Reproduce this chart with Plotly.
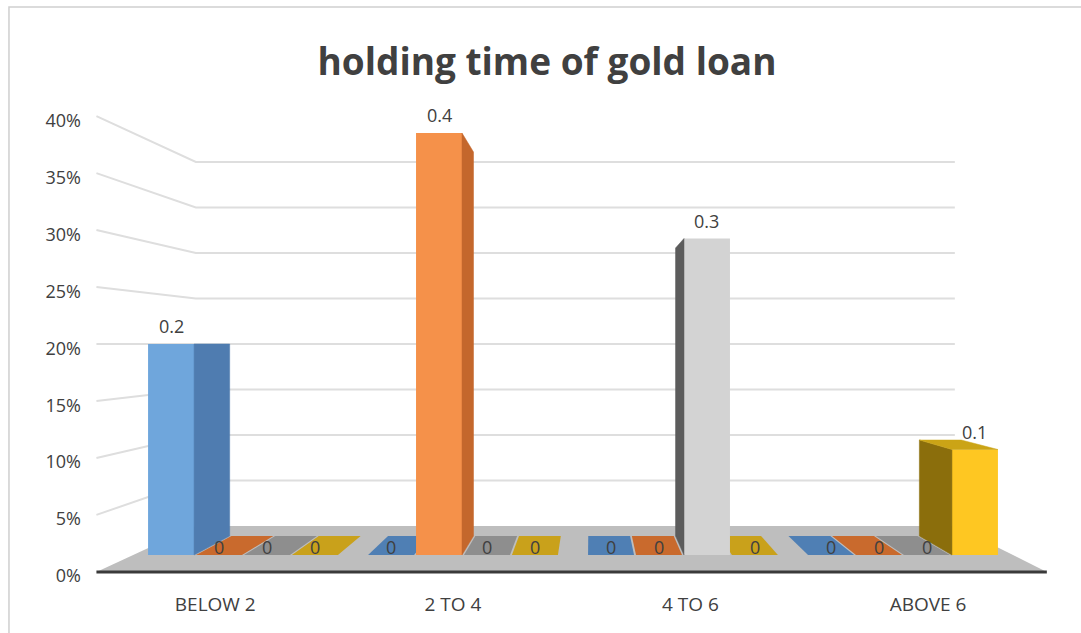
import plotly.graph_objects as go

# ---- data -------------------------------------------------------------
categories = ["BELOW 2", "2 TO 4", "4 TO 6", "ABOVE 6"]
series_names = ["Series1", "Series2", "Series3", "Series4"]
blue_values = [0.2, 0, 0, 0]
orange_values = [0, 0.4, 0, 0]
gray_values = [0, 0, 0.3, 0]
yellow_values = [0, 0, 0, 0.1]
y_tick_values = [0, 0.05, 0.10, 0.15, 0.20, 0.25, 0.30, 0.35, 0.40]
y_tick_text = ["0%", "5%", "10%", "15%", "20%", "25%", "30%", "35%", "40%"]
title_text = "holding time of gold loan"

series_values = [blue_values, orange_values, gray_values, yellow_values]

# ---- styling ----------------------------------------------------------
FONT = "Open Sans"
TEXT = "#404040"
front_colors = ["#6fa6dc", "#f5914a", "#d3d3d3", "#fec722"]
side_colors = ["#4f7cb0", "#c4672c", "#5c5c5c", "#8b6e0c"]
top_colors = ["#8dbbe6", "#f8ad77", "#e6e6e6", "#cba416"]
tile_colors = ["#4f7fb4", "#c96a2d", "#8e8e8e", "#c9a11b"]
GRID = "#dedede"
FLOOR = "#bebebe"

# perspective: vanishing point (in axis units) and depth scale factors
VP_X, VP_Y = 1.577, 0.2
S_FRONT = 1.08       # front edge of the floor / label plane
S_BAR = 1.0          # front faces of the columns
S_BAR_BACK = 0.91    # back faces of the columns
S_WALL = 0.8625      # back wall
SLOT = 0.218
BAR_W = 0.209
X_MIN, X_MAX = -0.5, 3.5


def proj(x, y, s):
    return VP_X + (x - VP_X) * s, VP_Y + (y - VP_Y) * s


def path(points):
    return "M " + " L ".join(f"{x:.4f},{y:.4f}" for x, y in points) + " Z"


def line_path(points):
    return "M " + " L ".join(f"{x:.4f},{y:.4f}" for x, y in points)


shapes = []

# outer chart border
shapes.append(dict(type="path", xref="paper", yref="paper",
                   path="M -0.0813,-0.2 L -0.0813,1.1937 L 1.1,1.1937",
                   line=dict(color="#cfcfcf", width=1.5), layer="below"))

# wall gridlines (back wall + left side wall)
for v in y_tick_values[1:]:
    a = proj(X_MIN, v, S_FRONT)
    b = proj(X_MIN, v, S_WALL)
    c = proj(X_MAX, v, S_WALL)
    shapes.append(dict(type="path", xref="x", yref="y", path=line_path([a, b, c]),
                       line=dict(color=GRID, width=2), layer="below"))

# floor
floor_pts = [proj(X_MIN, 0, S_FRONT), proj(X_MAX, 0, S_FRONT),
             proj(X_MAX, 0, S_WALL), proj(X_MIN, 0, S_WALL)]
shapes.append(dict(type="path", xref="x", yref="y", path=path(floor_pts),
                   fillcolor=FLOOR, line=dict(width=0), layer="below"))
shapes.append(dict(type="path", xref="x", yref="y",
                   path=line_path([proj(X_MIN, 0, S_FRONT), proj(X_MAX, 0, S_FRONT)]),
                   line=dict(color="#3a3a3a", width=3), layer="below"))

# flat tiles for zero values and 3D faces for the non-zero columns
for j, vals in enumerate(series_values):
    for i, v in enumerate(vals):
        xc = i + (j - 1.5) * SLOT
        x0, x1 = xc - BAR_W / 2, xc + BAR_W / 2
        if v == 0:
            pts = [proj(x0, 0, S_BAR), proj(x1, 0, S_BAR),
                   proj(x1, 0, S_BAR_BACK), proj(x0, 0, S_BAR_BACK)]
            shapes.append(dict(type="path", xref="x", yref="y", path=path(pts),
                               fillcolor=tile_colors[j], line=dict(width=0), layer="below"))
            continue
        xs = x1 if xc < VP_X else x0
        side = [proj(xs, 0, S_BAR), proj(xs, v, S_BAR),
                proj(xs, v, S_BAR_BACK), proj(xs, 0, S_BAR_BACK)]
        shapes.append(dict(type="path", xref="x", yref="y", path=path(side),
                           fillcolor=side_colors[j],
                           line=dict(color=side_colors[j], width=0.5), layer="above"))
        if v < VP_Y:
            top = [proj(x0, v, S_BAR), proj(x1, v, S_BAR),
                   proj(x1, v, S_BAR_BACK), proj(x0, v, S_BAR_BACK)]
            shapes.append(dict(type="path", xref="x", yref="y", path=path(top),
                               fillcolor=top_colors[j],
                               line=dict(color=top_colors[j], width=0.5), layer="above"))

fig = go.Figure()

for j, vals in enumerate(series_values):
    fig.add_trace(go.Bar(
        name=series_names[j],
        x=[i + (j - 1.5) * SLOT for i in range(len(categories))],
        y=vals,
        width=BAR_W,
        marker=dict(color=front_colors[j], line=dict(width=0)),
        hoverinfo="skip",
    ))

# value labels
annotations = []
for j, vals in enumerate(series_values):
    for i, v in enumerate(vals):
        annotations.append(dict(
            x=i + (j - 1.5) * SLOT, y=v, xref="x", yref="y",
            text=f"{v:g}", showarrow=False, yanchor="middle",
            yshift=18 if v > 0 else 8,
            font=dict(family=FONT, size=18, color=TEXT),
        ))

fig.update_layout(
    width=1081, height=633,
    margin=dict(l=88, r=21, t=100, b=53),
    paper_bgcolor="white", plot_bgcolor="white",
    barmode="overlay",
    showlegend=False,
    title=dict(text=f"<b>{title_text}</b>", x=0.506, xref="container",
               y=1 - 62 / 633, yref="container", xanchor="center", yanchor="middle",
               font=dict(family=FONT, size=37, color=TEXT)),
    xaxis=dict(range=[-0.7045, 3.7136], showgrid=False, zeroline=False, showline=False,
               tickmode="array",
               tickvals=[proj(i, 0, S_FRONT)[0] for i in range(len(categories))],
               ticktext=categories, ticks="", ticklabelstandoff=11,
               tickfont=dict(family=FONT, size=19, color=TEXT), fixedrange=True),
    yaxis=dict(range=[-0.0237, 0.4313], showgrid=False, zeroline=False, showline=False,
               tickmode="array",
               tickvals=[proj(0, v, S_FRONT)[1] - 0.004 for v in y_tick_values],
               ticktext=y_tick_text, ticks="", ticklabelstandoff=6,
               tickfont=dict(family=FONT, size=18, color=TEXT), fixedrange=True),
    shapes=shapes,
    annotations=annotations,
)

fig.write_html("out.html")
